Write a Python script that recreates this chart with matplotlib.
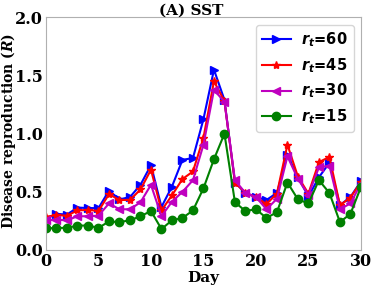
import matplotlib.pyplot as plt

plt.rcParams['font.family'] = 'DejaVu Serif'
plt.rcParams['font.weight'] = 'bold'
plt.rcParams['mathtext.fontset'] = 'custom'
plt.rcParams['mathtext.bfit'] = 'DejaVu Sans:italic:bold'
plt.rcParams['mathtext.it'] = 'DejaVu Serif:italic:bold'

days = list(range(31))

r60 = [0.27, 0.31, 0.305, 0.365, 0.36, 0.36, 0.51, 0.435, 0.455, 0.56, 0.73,
       0.37, 0.545, 0.775, 0.79, 1.125, 1.55, 1.29, 0.58, 0.49, 0.455,
       0.43, 0.49, 0.82, 0.625, 0.46, 0.625, 0.75, 0.385, 0.455, 0.59]
r45 = [0.285, 0.30, 0.295, 0.34, 0.345, 0.335, 0.48, 0.43, 0.43, 0.52, 0.69,
       0.34, 0.47, 0.61, 0.675, 0.965, 1.45, 1.28, 0.58, 0.49, 0.455,
       0.395, 0.485, 0.905, 0.63, 0.485, 0.755, 0.80, 0.385, 0.45, 0.585]
r30 = [0.255, 0.26, 0.255, 0.29, 0.29, 0.295, 0.40, 0.35, 0.35, 0.41, 0.56,
       0.29, 0.415, 0.50, 0.60, 0.905, 1.375, 1.275, 0.60, 0.49, 0.455,
       0.35, 0.44, 0.805, 0.61, 0.475, 0.71, 0.725, 0.35, 0.40, 0.57]
r15 = [0.185, 0.19, 0.19, 0.21, 0.21, 0.19, 0.245, 0.24, 0.255, 0.29, 0.335,
       0.18, 0.255, 0.275, 0.34, 0.53, 0.78, 1.0, 0.41, 0.335, 0.35,
       0.275, 0.325, 0.58, 0.435, 0.40, 0.60, 0.49, 0.24, 0.31, 0.54]

fig = plt.figure(figsize=(3.74, 2.89), dpi=100)
ax = fig.add_axes([0.123, 0.135, 0.842, 0.805])

lbl = r'$\mathbfit{r}_{\mathbfit{t}}$=%d'
ax.plot(days, r60, marker='>', color='blue', markersize=6, linewidth=1.5, label=lbl % 60)
ax.plot(days, r45, marker='*', color='red', markersize=6, linewidth=1.5, label=lbl % 45)
ax.plot(days, r30, marker='<', color='m', markersize=6, linewidth=1.5, label=lbl % 30)
ax.plot(days, r15, marker='o', color='green', markersize=6, linewidth=1.5, label=lbl % 15)

ax.set_xlim(0, 30)
ax.set_ylim(0, 2.0)
ax.set_xticks([0, 5, 10, 15, 20, 25, 30])
ax.set_yticks([0.0, 0.5, 1.0, 1.5, 2.0])
ax.tick_params(length=0, labelsize=11.5, pad=2)
for s in ax.spines.values():
    s.set_color('#b0b0b0')

ax.set_title('(A) SST', fontsize=11, fontweight='bold', pad=1.5, x=0.46)
ax.set_xlabel('Day', fontsize=11, fontweight='bold', labelpad=1)
ax.set_ylabel(r'Disease reproduction ($\mathit{R}$)', fontsize=10, fontweight='bold')
ax.yaxis.set_label_coords(-0.089, 0.51)
ax.legend(loc='upper right', handlelength=2.0, borderpad=0.4, labelspacing=0.5,
          handletextpad=0.7, prop={'family': 'DejaVu Sans', 'weight': 'bold', 'size': 10.5})

fig.savefig('out.png', dpi=100)
